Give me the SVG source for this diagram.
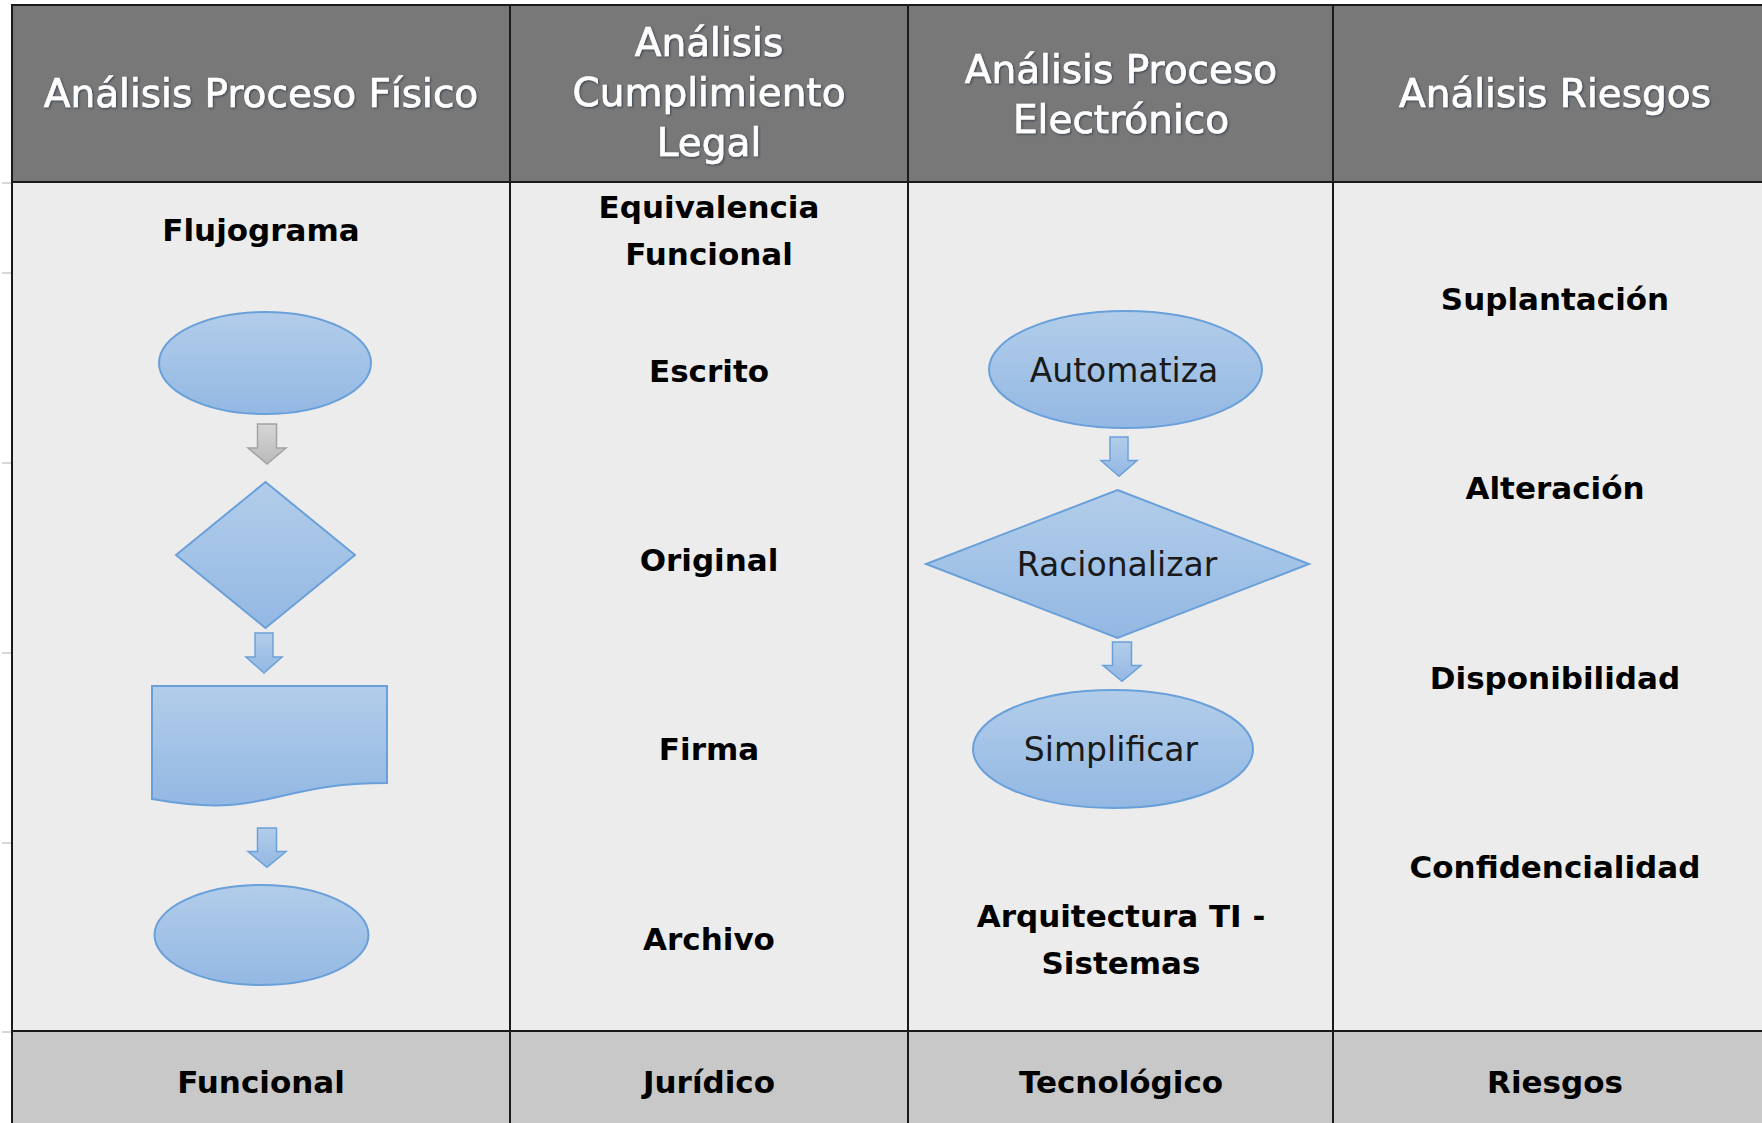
<svg xmlns="http://www.w3.org/2000/svg" width="1762" height="1123" viewBox="0 0 1762 1123">
  <defs>
    <linearGradient id="blueGrad" x1="0" y1="0" x2="0" y2="1">
      <stop offset="0" stop-color="#b2cdea"/>
      <stop offset="1" stop-color="#93b8e3"/>
    </linearGradient>
    <linearGradient id="grayGrad" x1="0" y1="0" x2="0" y2="1">
      <stop offset="0" stop-color="#d6d6d6"/>
      <stop offset="1" stop-color="#b9b9b9"/>
    </linearGradient>
    <filter id="glow" x="-10%" y="-30%" width="120%" height="160%">
      <feDropShadow dx="1" dy="1" stdDeviation="0.8" flood-color="#1a2a40" flood-opacity="0.7"/>
    </filter>
    <path id="blockArrow" d="M-9.5,0 H9.5 V24 H19 L0,40 L-19,24 H-9.5 Z"/>
  </defs>
  <style>
    .hdr { font-family: "DejaVu Sans", "Liberation Sans", sans-serif; font-size: 39px; fill: #ffffff; stroke: #ffffff; stroke-width: 0.7px; text-anchor: middle; }
    .body { font-family: "DejaVu Sans", "Liberation Sans", sans-serif; font-weight: bold; font-size: 31px; fill: #000000; text-anchor: middle; }
    .shapeTxt { font-family: "DejaVu Sans", "Liberation Sans", sans-serif; font-size: 33px; fill: #1a1a1a; text-anchor: middle; }
    .shape { fill: url(#blueGrad); stroke: #6aa0d9; stroke-width: 2; }
    .arrow { fill: url(#blueGrad); stroke: #6aa0d9; stroke-width: 1.5; }
    .arrowGray { fill: url(#grayGrad); stroke: #a3a3a3; stroke-width: 1.5; }
    .grid { stroke: #1a1a1a; stroke-width: 2; fill: none; }
    .tick { stroke: #c8c8c8; stroke-width: 1.5; }
  </style>

  <rect x="0" y="0" width="1762" height="1123" fill="#ffffff"/>

  <!-- table background -->
  <g id="table">
    <rect x="11" y="5" width="1751" height="177" fill="#787878"/>
    <rect x="11" y="182" width="1751" height="849" fill="#ececec"/>
    <rect x="11" y="1031" width="1751" height="92" fill="#c8c8c8"/>
    <line class="tick" x1="2" y1="183" x2="11" y2="183"/>
    <line class="tick" x1="2" y1="273" x2="11" y2="273"/>
    <line class="tick" x1="2" y1="463" x2="11" y2="463"/>
    <line class="tick" x1="2" y1="653" x2="11" y2="653"/>
    <line class="tick" x1="2" y1="843" x2="11" y2="843"/>
    <line class="tick" x1="2" y1="1032" x2="11" y2="1032"/>
    <line class="grid" x1="11" y1="5" x2="1762" y2="5"/>
    <line class="grid" x1="11" y1="182" x2="1762" y2="182" stroke-width="2.5"/>
    <line class="grid" x1="11" y1="1031" x2="1762" y2="1031" stroke-width="3" stroke="#2a2a2a"/>
    <line class="grid" x1="12" y1="4" x2="12" y2="1123" stroke-width="2.5"/>
    <line class="grid" x1="510" y1="4" x2="510" y2="1123"/>
    <line class="grid" x1="908" y1="4" x2="908" y2="1123"/>
    <line class="grid" x1="1333" y1="4" x2="1333" y2="1123"/>
  </g>

  <!-- headers -->
  <g id="header-fisico" filter="url(#glow)">
    <text class="hdr" x="261" y="107">Análisis Proceso Físico</text>
  </g>
  <g id="header-legal" filter="url(#glow)">
    <text class="hdr" x="709" y="56">Análisis</text>
    <text class="hdr" x="709" y="106">Cumplimiento</text>
    <text class="hdr" x="709" y="156">Legal</text>
  </g>
  <g id="header-electronico" filter="url(#glow)">
    <text class="hdr" x="1121" y="83">Análisis Proceso</text>
    <text class="hdr" x="1121" y="133">Electrónico</text>
  </g>
  <g id="header-riesgos" filter="url(#glow)">
    <text class="hdr" x="1555" y="107">Análisis Riesgos</text>
  </g>

  <!-- column 1 -->
  <g id="flujograma"><text class="body" x="261" y="241">Flujograma</text></g>
  <g id="f-ellipse-start"><ellipse class="shape" cx="265" cy="363" rx="106" ry="51"/></g>
  <g id="f-diamond"><polygon class="shape" points="265.5,482 355,555 265.5,628 176,555"/></g>
  <g id="f-document"><path class="shape" d="M152,686 H387 V783 C269.5,783 269.5,820 152,799 Z"/></g>
  <g id="f-ellipse-end"><ellipse class="shape" cx="261.5" cy="935" rx="107" ry="50"/></g>

  <!-- column 2 -->
  <g id="equivalencia"><text class="body" x="709" y="218">Equivalencia</text><text class="body" x="709" y="265">Funcional</text></g>
  <g id="escrito"><text class="body" x="709" y="382">Escrito</text></g>
  <g id="original"><text class="body" x="709" y="571">Original</text></g>
  <g id="firma"><text class="body" x="709" y="760">Firma</text></g>
  <g id="archivo"><text class="body" x="709" y="950">Archivo</text></g>

  <!-- column 3 -->
  <g id="automatiza"><ellipse class="shape" cx="1125.5" cy="369.5" rx="136.5" ry="58.5"/><text class="shapeTxt" x="1124" y="382">Automatiza</text></g>
  <g id="racionalizar"><polygon class="shape" points="1117.5,490 1309,564 1117.5,638 926,564"/><text class="shapeTxt" x="1117" y="576">Racionalizar</text></g>
  <g id="simplificar"><ellipse class="shape" cx="1113" cy="749" rx="140" ry="59"/><text class="shapeTxt" x="1111" y="761">Simplificar</text></g>
  <g id="arquitectura"><text class="body" x="1121" y="927">Arquitectura TI -</text><text class="body" x="1121" y="974">Sistemas</text></g>

  <!-- column 4 -->
  <g id="suplantacion"><text class="body" x="1555" y="310">Suplantación</text></g>
  <g id="alteracion"><text class="body" x="1555" y="499">Alteración</text></g>
  <g id="disponibilidad"><text class="body" x="1555" y="689">Disponibilidad</text></g>
  <g id="confidencialidad"><text class="body" x="1555" y="878">Confidencialidad</text></g>

  <!-- footer -->
  <g id="footer-funcional"><text class="body" x="261" y="1093">Funcional</text></g>
  <g id="footer-juridico"><text class="body" x="709" y="1093">Jurídico</text></g>
  <g id="footer-tecnologico"><text class="body" x="1121" y="1093">Tecnológico</text></g>
  <g id="footer-riesgos"><text class="body" x="1555" y="1093">Riesgos</text></g>

  <!-- connectors -->
  <g id="connectors">
    <use href="#blockArrow" class="arrowGray" transform="translate(267,424)"/>
    <use href="#blockArrow" class="arrow" transform="translate(264,633) scale(0.95,1)"/>
    <use href="#blockArrow" class="arrow" transform="translate(267,828) scale(1,0.98)"/>
    <use href="#blockArrow" class="arrow" transform="translate(1119,437) scale(0.95,0.98)"/>
    <use href="#blockArrow" class="arrow" transform="translate(1122,642) scale(1,0.98)"/>
  </g>
</svg>
